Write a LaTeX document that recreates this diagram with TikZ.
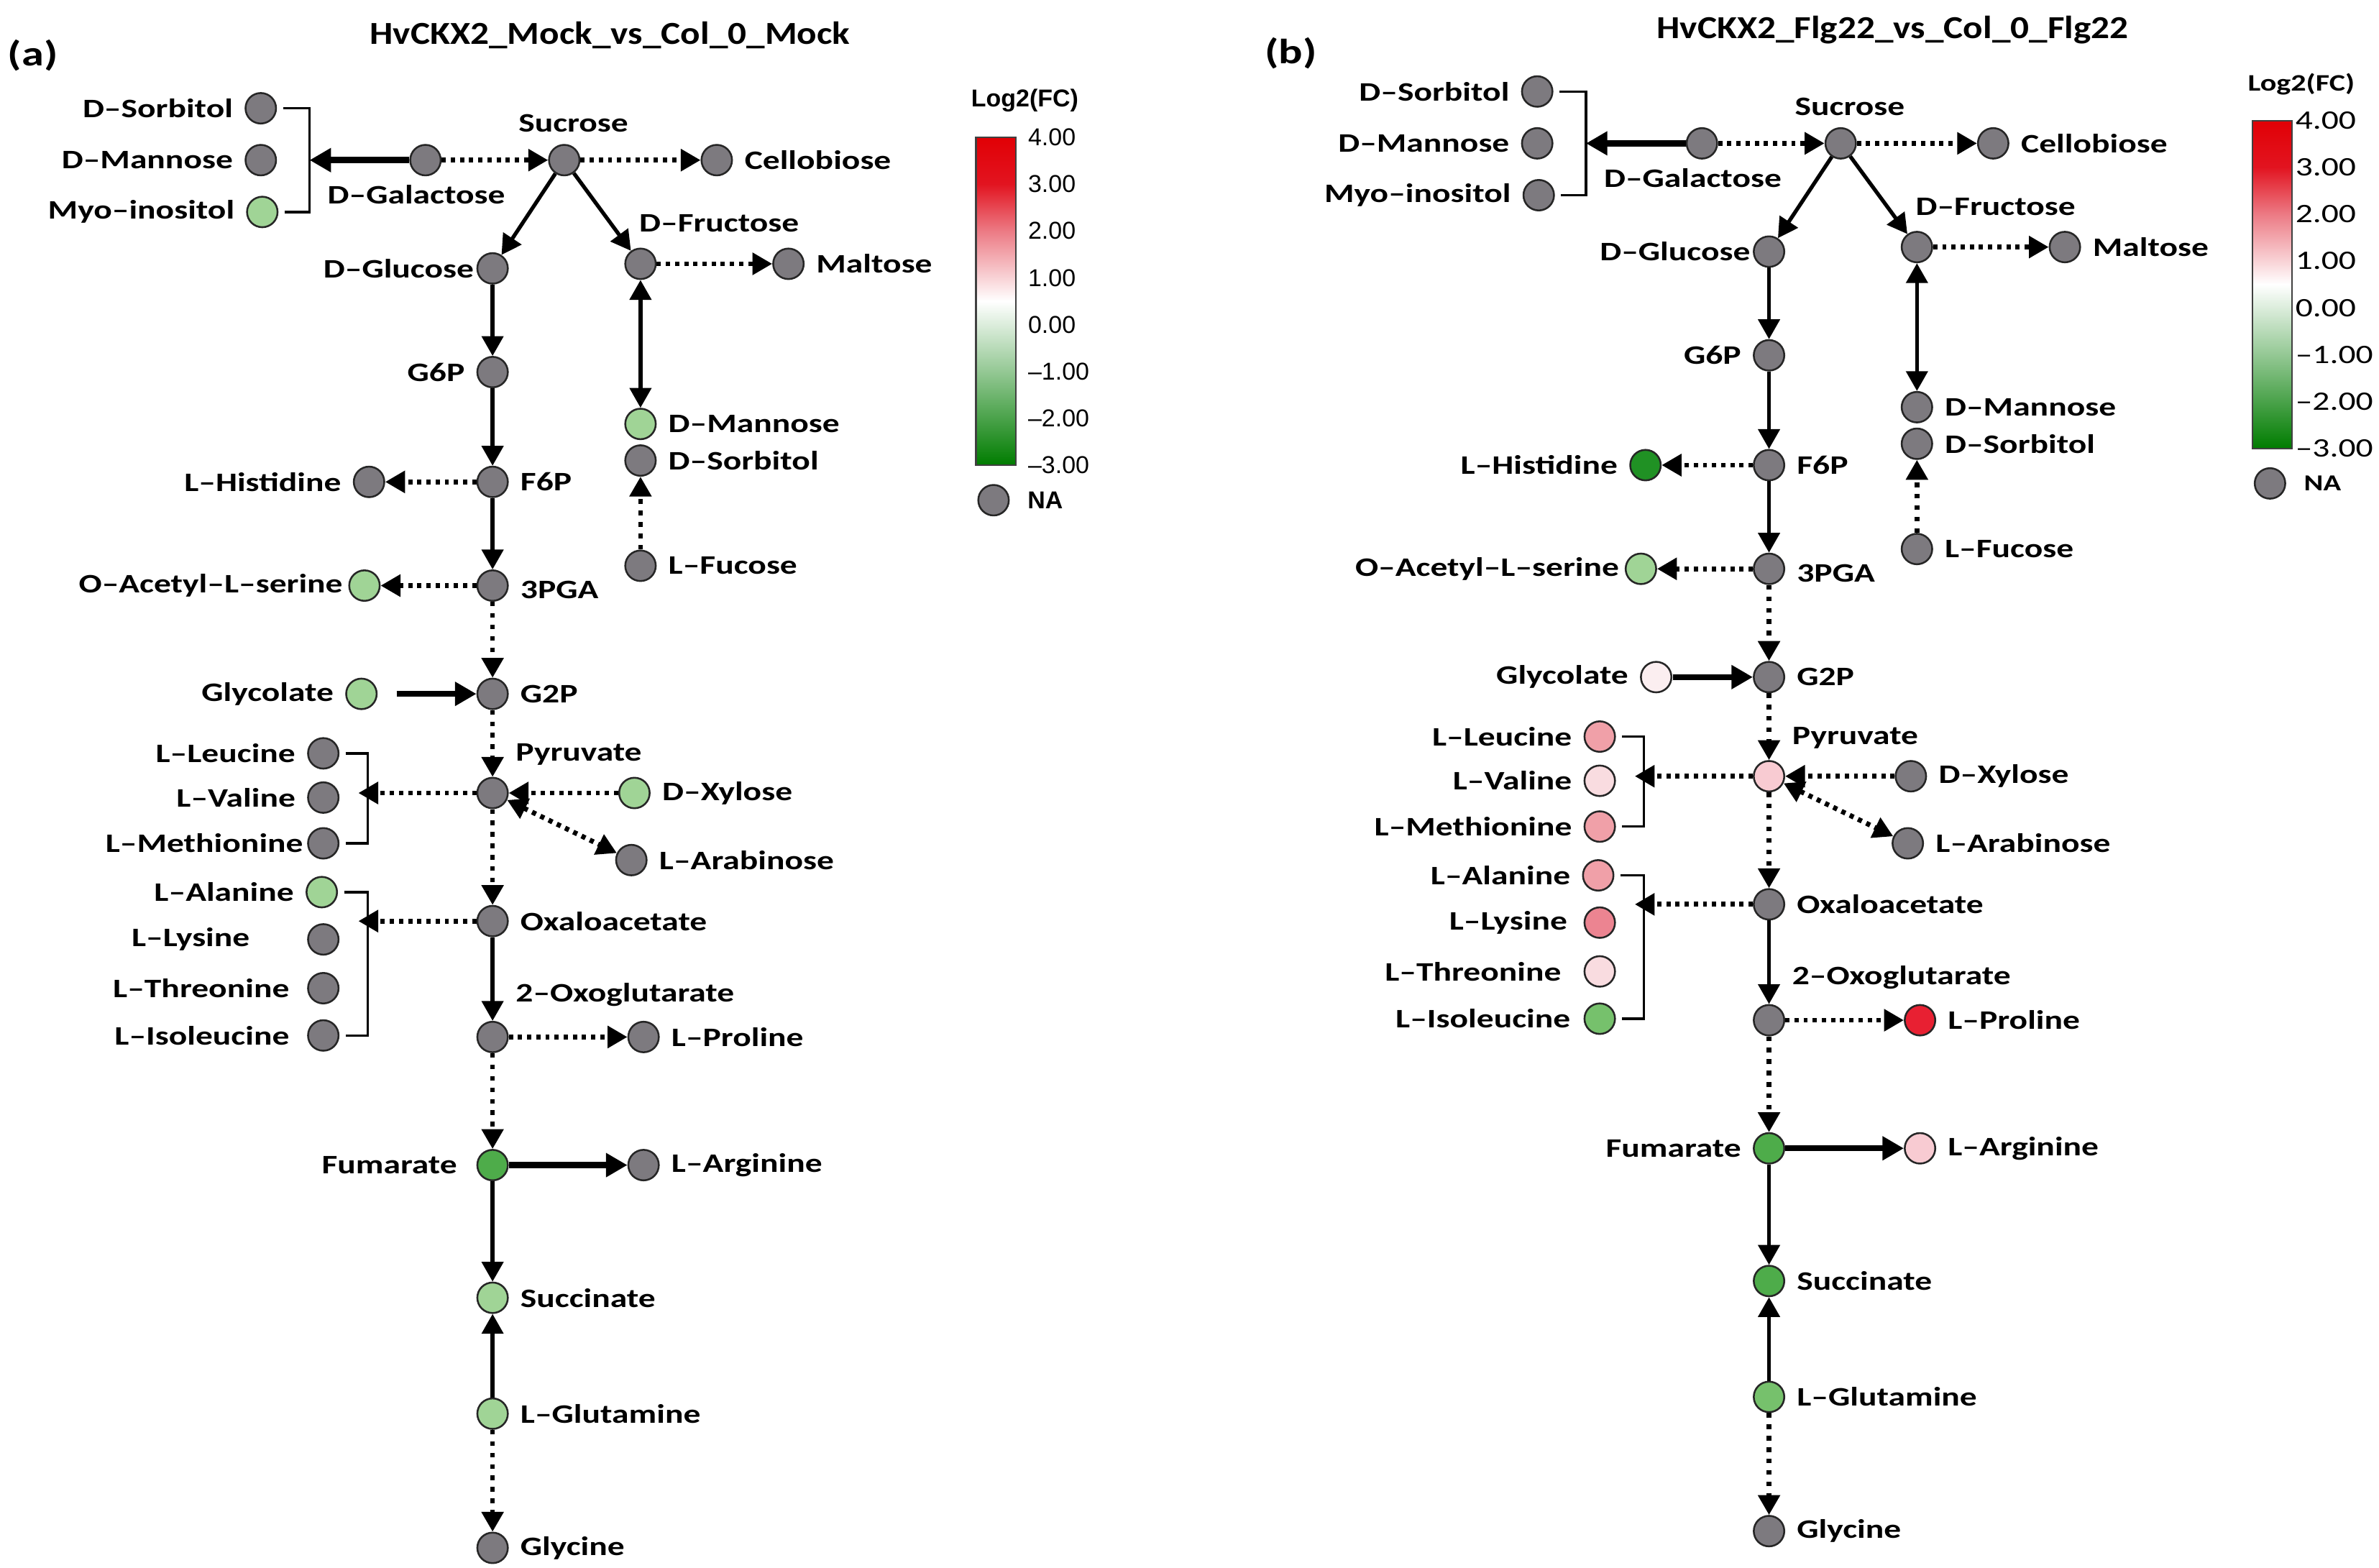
\documentclass[tikz,border=0pt]{standalone}
\usepackage{fontspec}
\usetikzlibrary{arrows.meta}

\newfontfamily\labfont[FakeStretch=1.28]{Carlito}
\newfontfamily\titfont[FakeStretch=1.15]{Carlito}
\newfontfamily\arialfont{Liberation Sans}
\newcommand{\labbf}{\labfont\bfseries\fontsize{17.5}{18}\selectfont}

\definecolor{na}{RGB}{125,122,127}
\definecolor{lgreen}{RGB}{160,212,150}
\definecolor{mgreen}{RGB}{78,172,74}
\definecolor{dgreen}{RGB}{32,145,36}
\definecolor{igreen}{RGB}{118,193,108}
\definecolor{pinkA}{RGB}{240,160,168}
\definecolor{pinkB}{RGB}{236,132,145}
\definecolor{paleA}{RGB}{249,220,224}
\definecolor{paleB}{RGB}{251,238,240}
\definecolor{paleC}{RGB}{248,203,210}
\definecolor{fcred}{RGB}{232,32,50}
\definecolor{barred}{RGB}{225,0,5}
\definecolor{barredB}{RGB}{226,20,32}
\definecolor{barpink}{RGB}{236,122,132}
\definecolor{barlg}{RGB}{148,200,148}
\definecolor{bardg}{RGB}{0,124,0}

\tikzset{
  % one empty colour style per metabolite, filled in per panel
  mkcol/.style={c-#1/.style={}},
  mkcol/.list={sorbA,mannA,myo,gal,sucr,cello,glc,fru,malt,g6p,f6p,his,mannB,sorbB,fuc,pga,oas,g2p,glyc,pyr,xyl,ara,leu,val,met,ala,lys,thr,ile,oaa,og,pro,fum,arg,succ,gln,glyn,na},
  dot/.style={circle, draw=black!85, line width=1.2pt, fill=na, minimum size=20pt, inner sep=0pt, c-#1},
  every label/.style={font=\labbf, inner sep=1.5pt, text=black},
  rxn/.style={->, line width=2.5pt},
  rxnthick/.style={-{Triangle[length=14pt,width=15pt]}, line width=4pt},
  rxndot/.style={->, line width=3.2pt, dash pattern=on 2.8pt off 3.2pt},
  rxnvdot/.style={->, line width=3pt, dash pattern=on 3pt off 4.5pt},
  brk/.style={line width=1.6pt, shorten <=4pt, shorten >=4pt},
  titlestyle/.style={font=\titfont\bfseries\fontsize{21}{22}\selectfont, inner sep=0pt},
  panelstyle/.style={font=\labfont\bfseries\fontsize{23}{24}\selectfont, inner sep=0pt}
}

% one pathway panel, #1 = x of Glycolate
\newcommand{\pathway}[1]{%
\node[dot=sorbA, label=left:D–Sorbitol] (sorbA) at (171,71) {};
\node[dot=mannA, label=left:D–Mannose] (mannA) at (171,105) {};
\node[dot=myo, label=left:Myo–inositol] (myo) at (172,139) {};
\node[dot=gal, label={[xshift=-6pt, yshift=2pt]below:D–Galactose}] (gal) at (279,105) {};
\node[dot=sucr, label={[xshift=6pt]above:Sucrose}] (sucr) at (370,105) {};
\node[dot=cello, label=right:Cellobiose] (cello) at (470,105) {};
\node[dot=glc, label={[label distance=\ldglc]left:D–Glucose}] (glc) at (323,176) {};
\node[dot=fru, label={[anchor=south west, xshift=-2.5pt, yshift=2.5pt]north:D–Fructose}] (fru) at (420,173) {};
\node[dot=malt, label=right:Maltose] (malt) at (517,173) {};
\node[dot=g6p, label=left:G6P] (g6p) at (323,244) {};
\node[dot=f6p, label=right:F6P] (f6p) at (323,316) {};
\node[dot=his, label=left:L–Histidine] (his) at (242,316) {};
\node[dot=mannB, label=right:D–Mannose] (mannB) at (420,278) {};
\node[dot=sorbB, label=right:D–Sorbitol] (sorbB) at (420,302) {};
\node[dot=fuc, label=right:L–Fucose] (fuc) at (420,371) {};
\node[dot=pga, label={[yshift=-3pt]right:3PGA}] (pga) at (323,384) {};
\node[dot=oas, label={[label distance=2pt]left:O–Acetyl–L–serine}] (oas) at (239,384) {};
\node[dot=g2p, label=right:G2P] (g2p) at (323,455) {};
\node[dot=glyc, label=left:Glycolate] (glyc) at (#1,455) {};
\node[dot=pyr, label={[anchor=south west, xshift=1.8pt, yshift=4.8pt]north east:Pyruvate}] (pyr) at (323,520) {};
\node[dot=xyl, label=right:D–Xylose] (xyl) at (416,520) {};
\node[dot=ara, label=right:L–Arabinose] (ara) at (414,564) {};
\node[dot=leu, label=left:L–Leucine] (leu) at (212,494) {};
\node[dot=val, label=left:L–Valine] (val) at (212,523) {};
\node[dot=met, label={[label distance=\ldmet]left:L–Methionine}] (met) at (212,553) {};
\node[dot=ala, label=left:L–Alanine] (ala) at (211,585) {};
\node[dot=lys, label={[label distance=\ldlys]left:L–Lysine}] (lys) at (212,616) {};
\node[dot=thr, label={[label distance=\ldthr]left:L–Threonine}] (thr) at (212,648) {};
\node[dot=ile, label={[label distance=\ldile]left:L–Isoleucine}] (ile) at (212,679) {};
\node[dot=oaa, label=right:Oxaloacetate] (oaa) at (323,604) {};
\node[dot=og, label={[anchor=south west, xshift=1.8pt, yshift=6.8pt]north east:2–Oxoglutarate}] (og) at (323,680) {};
\node[dot=pro, label=right:L–Proline] (pro) at (422,680) {};
\node[dot=fum, label={[label distance=\ldfum]left:Fumarate}] (fum) at (323,764) {};
\node[dot=arg, label=right:L–Arginine] (arg) at (422,764) {};
\node[dot=succ, label=right:Succinate] (succ) at (323,851) {};
\node[dot=gln, label=right:L–Glutamine] (gln) at (323,927) {};
\node[dot=glyn, label=right:Glycine] (glyn) at (323,1015) {};
% bracket and arrow end points
\coordinate (brk1) at (203,105);
\coordinate (brk2) at (241,520);
\coordinate (brk3) at (241,604);
\coordinate (glys) at (260,455);
\draw[brk] (sorbA.east) -| (brk1) |- (myo.east);
\draw[brk] (leu.east) -| (brk2) |- (met.east);
\draw[brk] (ala.east) -| (brk3) |- (ile.east);
% reactions
\draw[rxnthick] (gal) -- (brk1);
\draw[rxndot] (gal) -- (sucr);
\draw[rxndot] (sucr) -- (cello);
\draw[rxn] (sucr) -- (glc);
\draw[rxn] (sucr) -- (fru);
\draw[rxndot] (fru) -- (malt);
\draw[rxn, <->] (fru) -- (mannB);
\draw[rxnvdot] (fuc) -- (sorbB);
\draw[rxn] (glc) -- (g6p);
\draw[rxn] (g6p) -- (f6p);
\draw[rxndot] (f6p) -- (his);
\draw[rxn] (f6p) -- (pga);
\draw[rxndot] (pga) -- (oas);
\draw[rxnvdot] (pga) -- (g2p);
\draw[rxnthick] (glys) -- (g2p);
\draw[rxnvdot] (g2p) -- (pyr);
\draw[rxndot] (xyl) -- (pyr);
\draw[rxndot, <->] (pyr) -- (ara);
\draw[rxndot, shorten >=-6pt] (pyr) -- (brk2);
\draw[rxnvdot] (pyr) -- (oaa);
\draw[rxndot, shorten >=-6pt] (oaa) -- (brk3);
\draw[rxn] (oaa) -- (og);
\draw[rxndot] (og) -- (pro);
\draw[rxnvdot] (og) -- (fum);
\draw[rxnthick] (fum) -- (arg);
\draw[rxn] (fum) -- (succ);
\draw[rxn] (gln) -- (succ);
\draw[rxnvdot] (gln) -- (glyn);
% legend
\node[legtitle] (legt) at (672,66) {Log2(FC)};
\shade[top color=barred, bottom color=barredB] (640,90) rectangle (666,120.7);
\shade[top color=barredB, bottom color=barpink] (640,120.7) rectangle (666,151.4);
\shade[top color=barpink, bottom color=white] (640,151.4) rectangle (666,197.5);
\shade[top color=white, bottom color=barlg] (640,197.5) rectangle (666,243.6);
\shade[top color=barlg, bottom color=bardg] (640,243.6) rectangle (666,305);
\draw[line width=1pt, black!75] (640,90) rectangle (666,305);
\foreach \v/\txt [count=\i] in {4/4.00,3/3.00,2/2.00,1/1.00,0/0.00,-1/–1.00,-2/–2.00,-3/–3.00}
  \node[legtick, anchor=west] (tick\i) at (674,{305-(\v+3)*30.71}) {\txt};
\node[dot=na, label={[legna, label distance=10pt]right:NA}] (na) at (651.5,328) {};
}

\begin{document}
\begin{tikzpicture}[x=1pt, y=-1pt, label distance=6pt, >={Triangle[length=13pt,width=14pt]}]
\fill[white, use as bounding box] (0,0) rectangle (1560,1028);

\node[panelstyle] (pa) at (21.5,36.5) {(a)};
\node[titlestyle, anchor=base] (titA) at (400,29) {HvCKX2\_Mock\_vs\_Col\_0\_Mock};
\node[panelstyle] (pb) at (846.5,35) {(b)};
\node[titlestyle, anchor=base] (titB) at (1241,25.4) {HvCKX2\_Flg22\_vs\_Col\_0\_Flg22};

% panel (a)
\begin{scope}
\def\ldglc{0pt}\def\ldmet{1pt}\def\ldlys{36pt}\def\ldthr{10pt}\def\ldile{10pt}\def\ldfum{11pt}
\tikzset{
  legtitle/.style={font=\arialfont\bfseries\fontsize{16}{16}\selectfont, inner sep=0pt},
  legtick/.style={font=\arialfont\fontsize{16}{16}\selectfont, inner sep=0pt},
  legna/.style={font=\arialfont\bfseries\fontsize{16}{16}\selectfont},
  c-myo/.style={fill=lgreen}, c-mannB/.style={fill=lgreen}, c-oas/.style={fill=lgreen},
  c-glyc/.style={fill=lgreen}, c-xyl/.style={fill=lgreen}, c-ala/.style={fill=lgreen},
  c-fum/.style={fill=mgreen}, c-succ/.style={fill=lgreen}, c-gln/.style={fill=lgreen}
}
\pathway{237}
\end{scope}

% panel (b)
\begin{scope}[shift={(837,-11)}]
\def\ldglc{0pt}\def\ldmet{6pt}\def\ldlys{9pt}\def\ldthr{13pt}\def\ldile{7pt}\def\ldfum{6pt}
\tikzset{
  legtitle/.style={font=\labfont\bfseries\fontsize{15.5}{16}\selectfont, inner sep=0pt},
  legtick/.style={font=\labfont\fontsize{17.5}{18}\selectfont, inner sep=0pt, xshift=-6pt},
  legna/.style={font=\labfont\bfseries\fontsize{15}{15}\selectfont},
  c-his/.style={fill=dgreen}, c-oas/.style={fill=lgreen}, c-glyc/.style={fill=paleB},
  c-pyr/.style={fill=paleC}, c-leu/.style={fill=pinkA}, c-val/.style={fill=paleA},
  c-met/.style={fill=pinkA}, c-ala/.style={fill=pinkA}, c-lys/.style={fill=pinkB},
  c-thr/.style={fill=paleA}, c-ile/.style={fill=igreen},
  c-pro/.style={fill=fcred}, c-fum/.style={fill=mgreen}, c-arg/.style={fill=paleC},
  c-succ/.style={fill=mgreen}, c-gln/.style={fill=igreen}
}
\pathway{249}
\end{scope}

\end{tikzpicture}
\end{document}
